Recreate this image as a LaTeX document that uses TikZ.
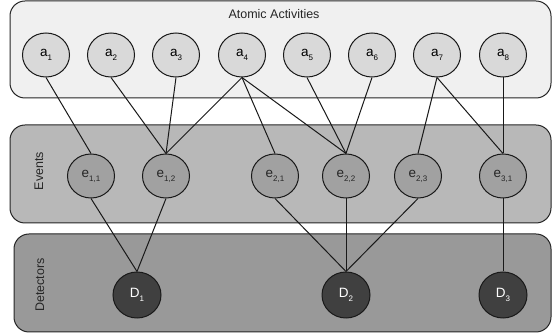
\documentclass[tikz,border=0pt]{standalone}
\usepackage{fontspec}
\setmainfont{Liberation Sans}
\usetikzlibrary{shapes.geometric}
\newcommand{\sublbl}[2]{#1\raisebox{-4pt}{\fontsize{8}{8}\selectfont #2}}
\begin{document}
\begin{tikzpicture}[x=1pt, y=-1pt, line width=1pt,
    panel/.style={draw=black!85, rounded corners=15pt},
    layerlabel/.style={font=\fontsize{12.5}{12.5}\selectfont, text=black!85},
    nd/.style={ellipse, draw=black!90, minimum width=47pt, minimum height=44pt,
      inner sep=0pt, font=\fontsize{13.5}{13.5}\selectfont},
    actnode/.style={nd, fill=black!15},
    evtnode/.style={nd, fill=black!37, text=black!85},
    detnode/.style={nd, fill=black!75, text=white, minimum width=48pt, minimum height=46pt},
    link/.style={draw=black!90}]
    \useasboundingbox (0,0) rectangle (552,336);
    % layers
    \filldraw[panel, fill=black!6] (10,1) rectangle (551,98);
    \filldraw[panel, fill=black!28] (10,125) rectangle (551,223);
    \filldraw[panel, fill=black!40] (14,234) rectangle (551,332);
    \node[layerlabel] (tAtomic) at (274,14) {Atomic Activities};
    \node[layerlabel, rotate=90] (tEvents) at (39,171) {Events};
    \node[layerlabel, rotate=90] (tDetectors) at (40,285) {Detectors};
    % atomic activities
    \node[actnode] (a1) at (46,55) {\sublbl{a}{1}};
    \node[actnode] (a2) at (111,55) {\sublbl{a}{2}};
    \node[actnode] (a3) at (176,55) {\sublbl{a}{3}};
    \node[actnode] (a4) at (242,55) {\sublbl{a}{4}};
    \node[actnode] (a5) at (307,55) {\sublbl{a}{5}};
    \node[actnode] (a6) at (372,55) {\sublbl{a}{6}};
    \node[actnode] (a7) at (437,55) {\sublbl{a}{7}};
    \node[actnode] (a8) at (503,55) {\sublbl{a}{8}};
    % events
    \node[evtnode] (e11) at (91,176) {\sublbl{e}{1,1}};
    \node[evtnode] (e12) at (166,176) {\sublbl{e}{1,2}};
    \node[evtnode] (e21) at (275,176) {\sublbl{e}{2,1}};
    \node[evtnode] (e22) at (346,176) {\sublbl{e}{2,2}};
    \node[evtnode] (e23) at (418,176) {\sublbl{e}{2,3}};
    \node[evtnode] (e31) at (503,176) {\sublbl{e}{3,1}};
    % detectors
    \node[detnode] (D1) at (137,295) {\sublbl{D}{1}};
    \node[detnode] (D2) at (346,295) {\sublbl{D}{2}};
    \node[detnode] (D3) at (503,295) {\sublbl{D}{3}};
    % links
    \draw[link] (a1.south) -- (e11.north);
    \draw[link] (a2.south) -- (e12.north);
    \draw[link] (a3.south) -- (e12.north);
    \draw[link] (a4.south) -- (e12.north);
    \draw[link] (a4.south) -- (e21.north);
    \draw[link] (a4.south) -- (e22.north);
    \draw[link] (a5.south) -- (e22.north);
    \draw[link] (a6.south) -- (e22.north);
    \draw[link] (a7.south) -- (e23.north);
    \draw[link] (a7.south) -- (e31.north);
    \draw[link] (a8.south) -- (e31.north);
    \draw[link] (e11.south) -- (D1.north);
    \draw[link] (e12.south) -- (D1.north);
    \draw[link] (e21.south) -- (D2.north);
    \draw[link] (e22.south) -- (D2.north);
    \draw[link] (e23.south) -- (D2.north);
    \draw[link] (e31.south) -- (D3.north);
\end{tikzpicture}
\end{document}
